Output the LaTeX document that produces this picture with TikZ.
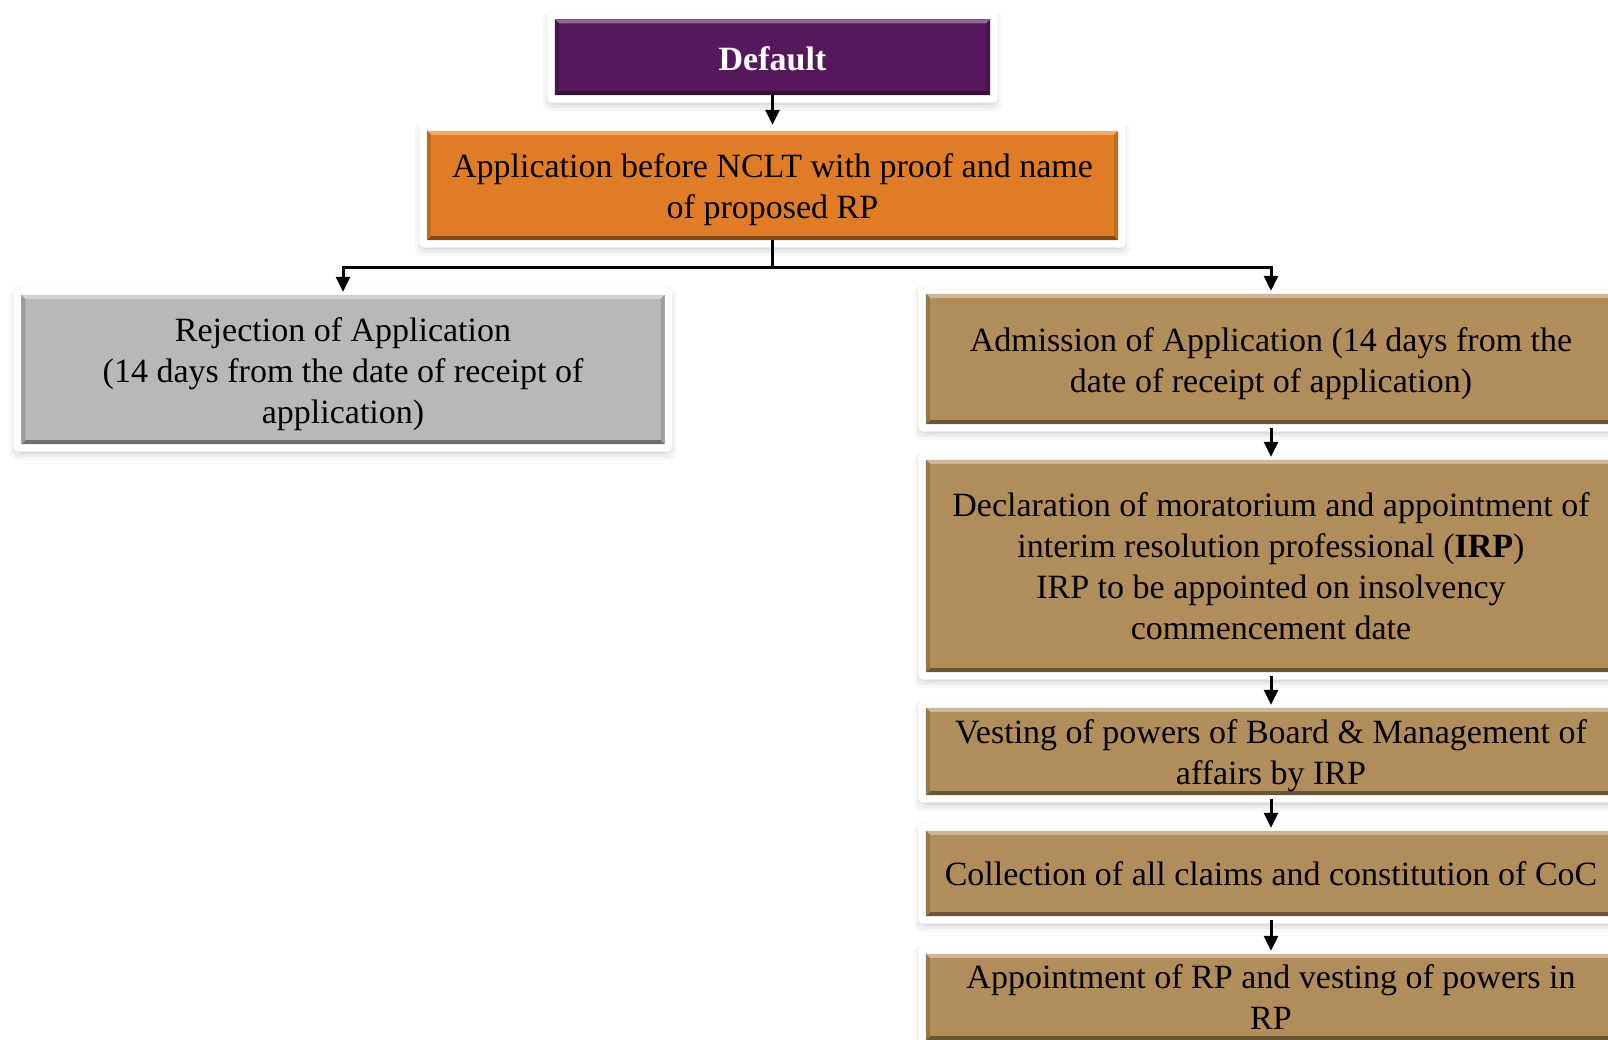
\documentclass[tikz,border=0pt]{standalone}
\usepackage{fontspec}
\setmainfont{Liberation Serif}
\usetikzlibrary{arrows.meta,backgrounds}

\definecolor{purp}{RGB}{86,24,92}
\definecolor{orng}{RGB}{224,123,38}
\definecolor{gry}{RGB}{184,184,184}
\definecolor{tanc}{RGB}{178,141,92}

\tikzset{
  flow/.style={rectangle, inner sep=0pt},
  txt/.style={inner sep=0pt, align=center,
    font=\fontsize{34}{41}\selectfont, text=black},
  arr/.style={line width=3pt, -{Triangle[width=14pt,length=15pt]}},
  link/.style={line width=3pt},
}

% frame, shadow, fill and bevel behind a node
\newcommand\decobox[2]{%
  \begin{pgfonlayer}{background}
    \foreach \s/\o in {12/0.03,9/0.045,6/0.06,4/0.07}{
      \fill[black,opacity=\o,rounded corners=8pt]
        ([shift={(-\s pt,\s pt-4pt)}]#1.north west) rectangle ([shift={(\s pt,-\s pt-4pt)}]#1.south east);
    }
    \fill[white,rounded corners=5pt]
      ([shift={(-7.5pt,7.5pt)}]#1.north west) rectangle ([shift={(7.5pt,-7.5pt)}]#1.south east);
    \fill[#2] (#1.north west) rectangle (#1.south east);
    \fill[#2!65!white] (#1.north west) -- (#1.north east) -- ([shift={(-4pt,-4pt)}]#1.north east) -- ([shift={(4pt,-4pt)}]#1.north west) -- cycle;
    \fill[#2!60!black] (#1.south west) -- (#1.south east) -- ([shift={(-4pt,4pt)}]#1.south east) -- ([shift={(4pt,4pt)}]#1.south west) -- cycle;
    \fill[#2!85!black] (#1.north west) -- ([shift={(4pt,-4pt)}]#1.north west) -- ([shift={(4pt,4pt)}]#1.south west) -- (#1.south west) -- cycle;
    \fill[#2!85!black] (#1.north east) -- ([shift={(-4pt,-4pt)}]#1.north east) -- ([shift={(-4pt,4pt)}]#1.south east) -- (#1.south east) -- cycle;
  \end{pgfonlayer}%
}

\begin{document}
\begin{tikzpicture}[x=1pt,y=-1pt]
\useasboundingbox (0,0) rectangle (1608,1039);
\begin{pgfonlayer}{background}
  \fill[white] (0,0) rectangle (1608,1039);
\end{pgfonlayer}
\clip (0,0) rectangle (1608,1039);

% boxes
\node[flow, minimum width=435pt, minimum height=75.5pt] (def) at (772.5,57.25) {};
\node[flow, minimum width=691pt, minimum height=109pt] (org) at (772.5,185.5) {};
\node[flow, minimum width=643pt, minimum height=149pt] (rej) at (343,369.5) {};
\node[flow, minimum width=690pt, minimum height=130pt] (adm) at (1271,359) {};
\node[flow, minimum width=690pt, minimum height=212pt] (dec) at (1271,566) {};
\node[flow, minimum width=690pt, minimum height=87pt] (ves) at (1271,751.5) {};
\node[flow, minimum width=690pt, minimum height=85pt] (col) at (1271,873.5) {};
\node[flow, minimum width=690pt, minimum height=86pt] (app) at (1271,997) {};

% texts
\node[txt, text=white, font=\fontsize{34}{41}\selectfont\bfseries] (defT) at ([yshift=-1pt]def.center) {Default};
\node[txt] (orgT) at ([yshift=-4.5pt]org.center) {Application before NCLT with proof and name\\of proposed RP};
\node[txt] (rejT) at ([yshift=-5pt]rej.center) {Rejection of Application\\(14 days from the date of receipt of\\application)};
\node[txt] (admT) at ([yshift=-5pt]adm.center) {Admission of Application (14 days from the\\date of receipt of application)};
\node[txt] (decT) at (dec.center) {Declaration of moratorium and appointment of\\interim resolution professional (\textbf{IRP})\\IRP to be appointed on insolvency\\commencement date};
\node[txt] (vesT) at ([yshift=-4pt]ves.center) {Vesting of powers of Board \& Management of\\affairs by IRP};
\node[txt] (colT) at (col.center) {Collection of all claims and constitution of CoC};
\node[txt] (appT) at (app.center) {Appointment of RP and vesting of powers in\\RP};

\decobox{def}{purp}
\decobox{org}{orng}
\decobox{rej}{gry}
\decobox{adm}{tanc}
\decobox{dec}{tanc}
\decobox{ves}{tanc}
\decobox{col}{tanc}
\decobox{app}{tanc}

\coordinate (split) at (772.5,267);
\draw[arr, shorten >=6pt] (def.south) -- (org.north);
\draw[link] (org.south) -- (split);
\draw[arr, shorten >=3pt] (split) -| (rej.north);
\draw[arr, shorten >=3pt] (split) -| (adm.north);
\draw[arr, shorten <=4pt, shorten >=3pt] (adm.south) -- (dec.north);
\draw[arr, shorten <=4pt, shorten >=3pt] (dec.south) -- (ves.north);
\draw[arr, shorten <=4pt, shorten >=3pt] (ves.south) -- (col.north);
\draw[arr, shorten <=4pt, shorten >=3pt] (col.south) -- (app.north);
\end{tikzpicture}
\end{document}
